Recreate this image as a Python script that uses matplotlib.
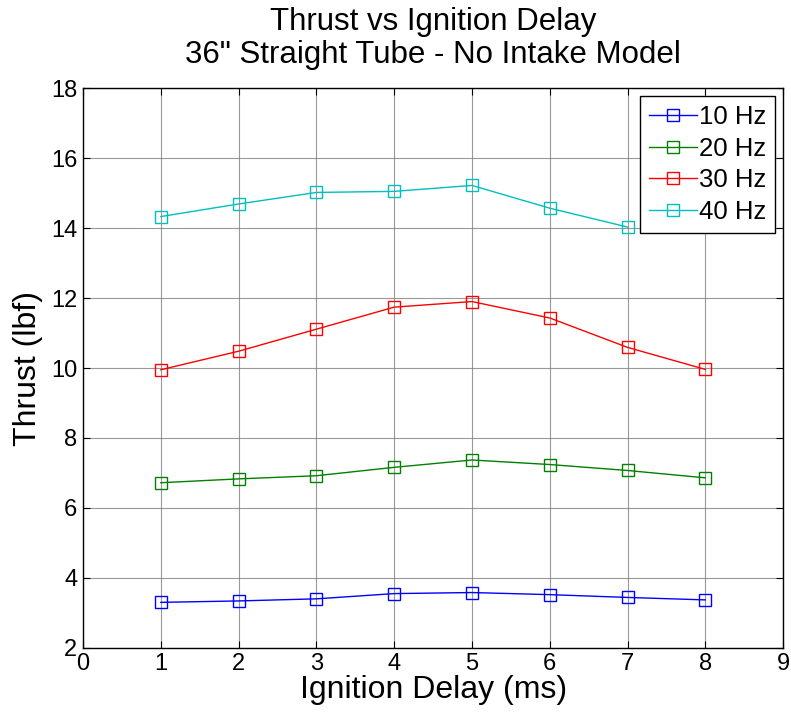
import matplotlib

matplotlib.use("Agg")
import matplotlib.pyplot as plt

# ignition delay (ms)
delay = [1, 2, 3, 4, 5, 6, 7, 8]
delay_40 = [1, 2, 3, 4, 5, 6, 7]

# thrust (lbf) per firing frequency
thrust_10 = [3.30, 3.34, 3.40, 3.55, 3.58, 3.52, 3.44, 3.37]
thrust_20 = [6.72, 6.83, 6.92, 7.16, 7.37, 7.24, 7.07, 6.86]
thrust_30 = [9.95, 10.48, 11.11, 11.74, 11.90, 11.43, 10.59, 9.96]
thrust_40 = [14.33, 14.69, 15.02, 15.05, 15.22, 14.57, 14.03]

plt.rcParams["font.family"] = ["Liberation Sans", "DejaVu Sans"]

fig = plt.figure(figsize=(7.91, 7.23), dpi=100)
ax = fig.add_axes([0.105, 0.104, 0.885, 0.774])

series = [
    (delay, thrust_10, "#0000ff", "10 Hz"),
    (delay, thrust_20, "#008000", "20 Hz"),
    (delay, thrust_30, "#ff0000", "30 Hz"),
    (delay_40, thrust_40, "#00bfbf", "40 Hz"),
]
for xs, ys, col, lab in series:
    ax.plot(xs, ys, color=col, marker="s", markersize=8, markerfacecolor="none",
            markeredgecolor=col, markeredgewidth=1.0, linewidth=1.0, label=lab)

ax.set_xlim(0, 9)
ax.set_ylim(2, 18)
ax.set_xticks(range(0, 10))
ax.set_yticks(range(2, 19, 2))
ax.grid(True, color="#808080", linewidth=0.8, alpha=0.8)
ax.set_axisbelow(True)
ax.tick_params(direction="in", top=True, right=True, labelsize=17, length=5, width=0.8, pad=4)
for sp in ax.spines.values():
    sp.set_linewidth(1.0)

ax.set_xlabel("Ignition Delay (ms)", fontsize=23, labelpad=0)
ax.set_ylabel("Thrust (lbf)", fontsize=23, labelpad=6)
ax.set_title("Thrust vs Ignition Delay\n36\" Straight Tube - No Intake Model",
             fontsize=22.5, pad=18, linespacing=1.15)

leg = ax.legend(loc="upper right", fontsize=18.5, fancybox=False, edgecolor="black",
                framealpha=1.0, borderaxespad=0.3, handlelength=1.85, handletextpad=0.1,
                labelspacing=0.3, borderpad=0.35)
leg.get_frame().set_linewidth(1.0)

fig.savefig("out.png", dpi=100)
